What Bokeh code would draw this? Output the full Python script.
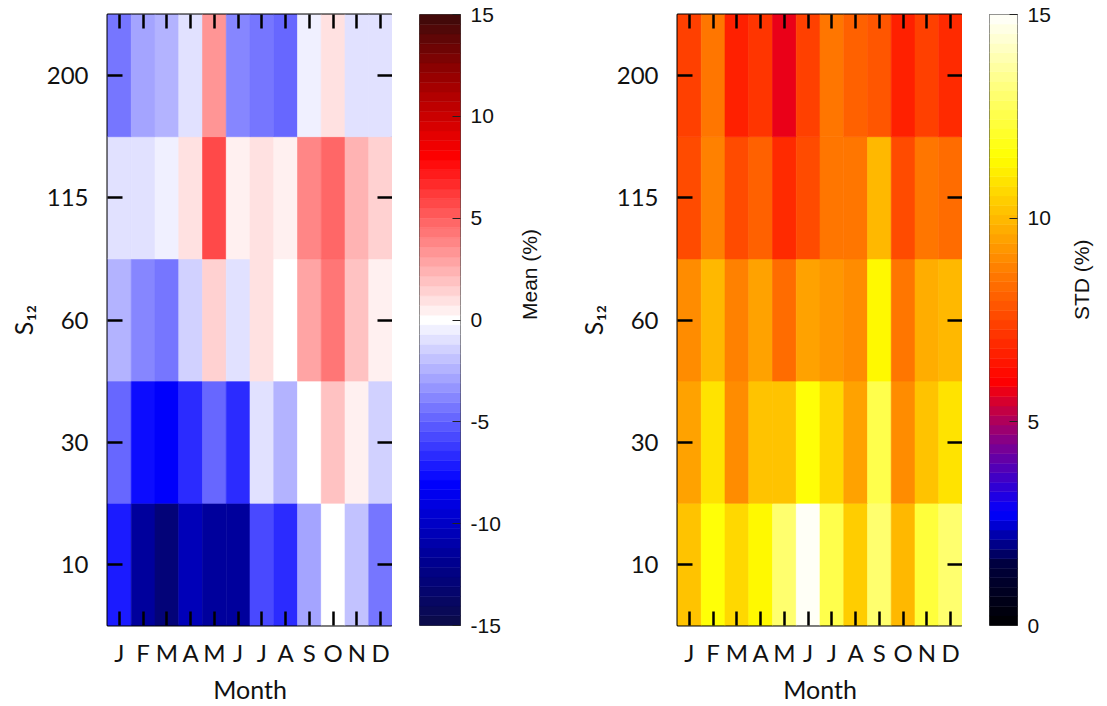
import math
import numpy as np
from bokeh.plotting import figure
from bokeh.models import (ColumnDataSource, LinearColorMapper, LinearAxis,
                          FixedTicker, Range1d, Label)
from bokeh.layouts import row
from bokeh.embed import file_html
from bokeh.resources import INLINE

# ---------------- data ----------------
month_labels = ["J", "F", "M", "A", "M", "J", "J", "A", "S", "O", "N", "D"]
s12_levels = ["10", "30", "60", "115", "200"]

# Mean (%) per S12 level, Jan..Dec
mean_10 = [-7.0, -11.3, -13.0, -10.5, -11.3, -11.3, -5.8, -6.9, -2.8, 0.0, -1.9, -4.4]
mean_30 = [-4.6, -7.5, -8.2, -6.8, -4.7, -6.6, -1.0, -2.4, 0.0, 2.0, 0.5, -1.4]
mean_60 = [-2.5, -3.8, -4.2, -1.4, 1.5, -1.0, 1.0, 0.0, 3.0, 4.2, 2.0, 0.5]
mean_115 = [-1.0, -1.0, -0.5, 1.0, 5.6, 0.5, 1.0, 0.5, 3.8, 4.7, 2.5, 1.6]
mean_200 = [-4.5, -3.0, -2.5, -1.0, 3.5, -3.8, -4.2, -4.7, -0.5, 1.0, -1.0, -1.0]

# STD (%) per S12 level, Jan..Dec
std_10 = [10.3, 11.5, 10.6, 11.4, 13.0, 15.0, 12.5, 10.5, 13.0, 9.9, 12.2, 13.0]
std_30 = [9.6, 10.9, 9.0, 10.3, 10.3, 11.7, 10.6, 9.5, 12.5, 9.0, 10.3, 11.0]
std_60 = [9.0, 10.0, 8.9, 9.5, 8.4, 9.5, 9.2, 9.0, 11.4, 8.5, 9.7, 10.0]
std_115 = [7.6, 8.7, 7.7, 8.0, 6.9, 7.7, 8.5, 8.5, 9.9, 7.6, 8.6, 8.3]
std_200 = [7.3, 8.5, 6.65, 7.2, 5.8, 7.3, 8.6, 8.0, 7.8, 6.65, 7.3, 7.0]

mean_ticks = [-15, -10, -5, 0, 5, 10, 15]
mean_tick_labels = ["-15", "-10", "-5", "0", "5", "10", "15"]
std_ticks = [0, 5, 10, 15]
std_tick_labels = ["0", "5", "10", "15"]

MAIN_FONT = "Lato"
CB_FONT = "Liberation Sans"


# ---------------- colour maps ----------------
def make_palette(stops, rgbs, low, high, n):
    centers = low + (np.arange(n) + 0.5) * (high - low) / n
    rgbs = np.array(rgbs, dtype=float)
    out = []
    for c in centers:
        r = np.interp(c, stops, rgbs[:, 0])
        g = np.interp(c, stops, rgbs[:, 1])
        b = np.interp(c, stops, rgbs[:, 2])
        out.append("#%02x%02x%02x" % (int(round(r)), int(round(g)), int(round(b))))
    return out


mean_pal = make_palette(
    [-15, -12, -8, 0, 8, 12, 15],
    [(12, 12, 70), (0, 0, 140), (0, 0, 255), (255, 255, 255),
     (255, 0, 0), (150, 0, 0), (60, 10, 10)],
    -15, 15, 63)
std_pal = make_palette(
    [0, 1.5, 2.75, 4.5, 6.0, 11.5, 15],
    [(0, 0, 0), (0, 0, 60), (0, 0, 255), (130, 0, 140),
     (255, 0, 0), (255, 255, 0), (255, 255, 255)],
    0, 15, 64)

mean_mapper = LinearColorMapper(palette=mean_pal, low=-15, high=15)
std_mapper = LinearColorMapper(palette=std_pal, low=0, high=15)


# ---------------- panels ----------------
def heatmap(rows_vals, mapper, width, min_left):
    nx, ny = len(month_labels), len(s12_levels)
    xs, ys, vs = [], [], []
    for j, vals in enumerate(rows_vals):
        for i, v in enumerate(vals):
            xs.append(i + 0.5)
            ys.append(j + 0.5)
            vs.append(v)
    src = ColumnDataSource(dict(x=xs, y=ys, val=vs))
    p = figure(width=width, height=706,
               x_range=Range1d(0, nx), y_range=Range1d(0, ny),
               output_backend="svg", toolbar_location=None,
               min_border_left=min_left, min_border_right=0,
               min_border_top=14, min_border_bottom=74)
    p.rect(x="x", y="y", width=1, height=1, source=src,
           fill_color={"field": "val", "transform": mapper},
           line_color={"field": "val", "transform": mapper}, line_width=0.6)
    p.add_layout(LinearAxis(), "above")
    p.add_layout(LinearAxis(), "right")
    p.grid.visible = False
    p.outline_line_color = "black"
    p.outline_line_width = 2
    p.outline_line_alpha = 1
    xt = [i + 0.5 for i in range(nx)]
    yt = [j + 0.5 for j in range(ny)]
    for ax in p.axis:
        ax.axis_line_color = None
        ax.minor_tick_line_color = None
        ax.major_tick_in = 14
        ax.major_tick_out = 0
        ax.major_tick_line_width = 2.5
        ax.major_tick_line_color = "black"
        ax.major_label_text_font = MAIN_FONT
        ax.major_label_text_font_size = "24px"
        ax.major_label_text_color = "#111111"
        ax.axis_label_text_font = MAIN_FONT
        ax.axis_label_text_font_size = "25px"
        ax.axis_label_text_font_style = "normal"
        ax.axis_label_text_color = "#111111"
    for ax in (p.below[0], p.above[0]):
        ax.ticker = FixedTicker(ticks=xt)
    for ax in (p.left[0], p.right[0]):
        ax.ticker = FixedTicker(ticks=yt)
        ax.major_tick_in = 15
    for ax in (p.above[0], p.right[0]):
        ax.major_label_text_color = None
        ax.major_label_standoff = 0
    bottom = p.below[0]
    bottom.major_label_overrides = {t: lab for t, lab in zip(xt, month_labels)}
    bottom.major_label_standoff = 12
    bottom.axis_label = "Month"
    bottom.axis_label_standoff = 4
    left = p.left[0]
    left.major_label_overrides = {t: lab for t, lab in zip(yt, s12_levels)}
    left.major_label_standoff = 19
    left.axis_label = "S₁₂"
    left.axis_label_standoff = 6
    return p


def colorbar(mapper, ticks, tick_labels, label, width, min_right, standoff):
    low, high = mapper.low, mapper.high
    pal = list(mapper.palette)
    edges = np.linspace(low, high, len(pal) + 1)
    c = figure(width=width, height=706,
               x_range=Range1d(0, 1), y_range=Range1d(low, high),
               output_backend="svg", toolbar_location=None,
               y_axis_location="right",
               min_border_left=27, min_border_right=min_right,
               min_border_top=14, min_border_bottom=74)
    c.quad(left=0, right=1, bottom=edges[:-1], top=edges[1:],
           fill_color=pal, line_color=pal, line_width=0.5)
    c.xaxis.visible = False
    c.grid.visible = False
    c.outline_line_color = "#444444"
    c.outline_line_width = 1
    ax = c.yaxis[0]
    ax.ticker = FixedTicker(ticks=ticks)
    ax.major_label_overrides = {t: s for t, s in zip(ticks, tick_labels)}
    ax.axis_line_color = None
    ax.major_tick_in = 8
    ax.major_tick_out = 0
    ax.major_tick_line_color = "#222222"
    ax.major_tick_line_width = 1
    ax.minor_tick_line_color = None
    ax.major_label_text_font = CB_FONT
    ax.major_label_text_font_size = "21px"
    ax.major_label_text_color = "#111111"
    ax.major_label_standoff = 10
    ax.axis_label = label
    ax.axis_label_text_font = CB_FONT
    ax.axis_label_text_font_size = "21px"
    ax.axis_label_text_font_style = "normal"
    ax.axis_label_text_color = "#111111"
    ax.axis_label_standoff = standoff
    try:
        ax.axis_label_orientation = math.pi / 2
    except Exception:
        ax.axis_label = ""
        c.add_layout(Label(x=width - 12, y=706 - 14 - 309, x_units="screen",
                           y_units="screen", text=label, angle=math.pi / 2,
                           text_align="center", text_baseline="middle",
                           text_font=CB_FONT, text_font_size="21px",
                           text_color="#111111"))
    return c


p1 = heatmap([mean_10, mean_30, mean_60, mean_115, mean_200], mean_mapper, 392, 107)
c1 = colorbar(mean_mapper, mean_ticks, mean_tick_labels, "Mean (%)", 168, 100, 26)
p2 = heatmap([std_10, std_30, std_60, std_115, std_200], std_mapper, 402, 117)
c2 = colorbar(std_mapper, std_ticks, std_tick_labels, "STD (%)", 145, 77, 28)

layout = row(p1, c1, p2, c2, spacing=0)

open("out.html", "w").write(file_html(layout, INLINE))
